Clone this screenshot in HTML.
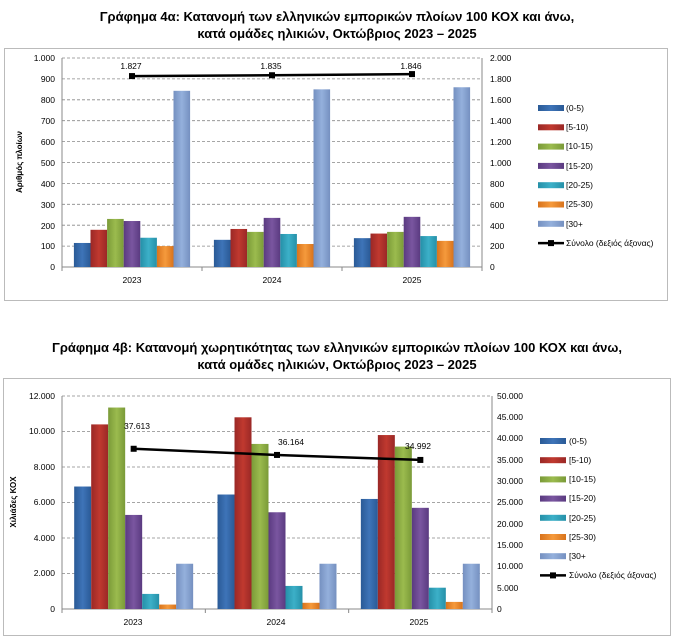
<!DOCTYPE html>
<html><head><meta charset="utf-8"><style>
body{margin:0;background:#fff;}
svg{display:block;font-family:"Liberation Sans","DejaVu Sans",sans-serif;}
</style></head><body>
<svg id="s" width="674" height="639" xmlns="http://www.w3.org/2000/svg">
<defs>
<linearGradient id="g0" x1="0" x2="1"><stop offset="0" stop-color="#2a5a96"/><stop offset=".5" stop-color="#3e74b8"/><stop offset="1" stop-color="#2a5a96"/></linearGradient>
<linearGradient id="g1" x1="0" x2="1"><stop offset="0" stop-color="#9a2826"/><stop offset=".5" stop-color="#c0392f"/><stop offset="1" stop-color="#9a2826"/></linearGradient>
<linearGradient id="g2" x1="0" x2="1"><stop offset="0" stop-color="#7a9a38"/><stop offset=".5" stop-color="#9bbb4e"/><stop offset="1" stop-color="#7a9a38"/></linearGradient>
<linearGradient id="g3" x1="0" x2="1"><stop offset="0" stop-color="#5a3a80"/><stop offset=".5" stop-color="#7a56a0"/><stop offset="1" stop-color="#5a3a80"/></linearGradient>
<linearGradient id="g4" x1="0" x2="1"><stop offset="0" stop-color="#2590a8"/><stop offset=".5" stop-color="#3cb0c8"/><stop offset="1" stop-color="#2590a8"/></linearGradient>
<linearGradient id="g5" x1="0" x2="1"><stop offset="0" stop-color="#d8731c"/><stop offset=".5" stop-color="#f59a3c"/><stop offset="1" stop-color="#d8731c"/></linearGradient>
<linearGradient id="g6" x1="0" x2="1"><stop offset="0" stop-color="#7590c0"/><stop offset=".5" stop-color="#94b0dc"/><stop offset="1" stop-color="#7590c0"/></linearGradient>
</defs>
<text x="337" y="21" text-anchor="middle" font-size="13" font-weight="bold">Γράφημα 4α: Κατανομή των ελληνικών εμπορικών πλοίων 100 ΚΟΧ και άνω,</text>
<text x="337" y="38" text-anchor="middle" font-size="13" font-weight="bold">κατά ομάδες ηλικιών, Οκτώβριος 2023 – 2025</text>
<rect x="4.5" y="48.5" width="663" height="252" fill="#fff" stroke="#bbb"/>
<text x="337" y="352" text-anchor="middle" font-size="13" font-weight="bold">Γράφημα 4β: Κατανομή χωρητικότητας των ελληνικών εμπορικών πλοίων 100 ΚΟΧ και άνω,</text>
<text x="337" y="369" text-anchor="middle" font-size="13" font-weight="bold">κατά ομάδες ηλικιών, Οκτώβριος 2023 – 2025</text>
<rect x="3.5" y="378.5" width="667" height="257" fill="#fff" stroke="#bbb"/>
<g id="c1"></g><g id="c2"></g>
<g font-size="8.5" fill="#000">
<text x="55" y="61" text-anchor="end">1.000</text><text x="55" y="82" text-anchor="end">900</text><text x="55" y="103" text-anchor="end">800</text><text x="55" y="124" text-anchor="end">700</text><text x="55" y="145" text-anchor="end">600</text><text x="55" y="166" text-anchor="end">500</text><text x="55" y="187" text-anchor="end">400</text><text x="55" y="208" text-anchor="end">300</text><text x="55" y="229" text-anchor="end">200</text><text x="55" y="249" text-anchor="end">100</text><text x="55" y="270" text-anchor="end">0</text>
<text x="490" y="61">2.000</text><text x="490" y="82">1.800</text><text x="490" y="103">1.600</text><text x="490" y="124">1.400</text><text x="490" y="145">1.200</text><text x="490" y="166">1.000</text><text x="490" y="187">800</text><text x="490" y="208">600</text><text x="490" y="229">400</text><text x="490" y="249">200</text><text x="490" y="270">0</text>
<text x="132" y="283" text-anchor="middle">2023</text><text x="272" y="283" text-anchor="middle">2024</text><text x="412" y="283" text-anchor="middle">2025</text>
<text x="131" y="69" text-anchor="middle">1.827</text><text x="271" y="69" text-anchor="middle">1.835</text><text x="411" y="69" text-anchor="middle">1.846</text>
<text transform="translate(22,162) rotate(-90)" text-anchor="middle" font-size="8" font-weight="bold">Αριθμός πλοίων</text>
<text x="55" y="399" text-anchor="end">12.000</text><text x="55" y="434" text-anchor="end">10.000</text><text x="55" y="470" text-anchor="end">8.000</text><text x="55" y="505" text-anchor="end">6.000</text><text x="55" y="541" text-anchor="end">4.000</text><text x="55" y="576" text-anchor="end">2.000</text><text x="55" y="612" text-anchor="end">0</text>
<text x="497" y="399">50.000</text><text x="497" y="420">45.000</text><text x="497" y="441">40.000</text><text x="497" y="463">35.000</text><text x="497" y="484">30.000</text><text x="497" y="505">25.000</text><text x="497" y="527">20.000</text><text x="497" y="548">15.000</text><text x="497" y="569">10.000</text><text x="497" y="591">5.000</text><text x="497" y="612">0</text>
<text x="133" y="625" text-anchor="middle">2023</text><text x="276" y="625" text-anchor="middle">2024</text><text x="419" y="625" text-anchor="middle">2025</text>
<text x="124" y="429">37.613</text><text x="278" y="445">36.164</text><text x="405" y="449">34.992</text>
<text transform="translate(16,502) rotate(-90)" text-anchor="middle" font-size="8" font-weight="bold">Χιλιάδες ΚΟΧ</text>
</g>
<g font-size="8.5" id="lg1"><text x="566" y="111">(0-5)</text><text x="566" y="130">[5-10)</text><text x="566" y="149">[10-15)</text><text x="566" y="169">[15-20)</text><text x="566" y="188">[20-25)</text><text x="566" y="207">[25-30)</text><text x="566" y="227">[30+</text><text x="566" y="246">Σύνολο (δεξιός άξονας)</text></g>
<g font-size="8.5" id="lg2"><text x="569" y="444">(0-5)</text><text x="569" y="463">[5-10)</text><text x="569" y="482">[10-15)</text><text x="569" y="501">[15-20)</text><text x="569" y="521">[20-25)</text><text x="569" y="540">[25-30)</text><text x="569" y="559">[30+</text><text x="569" y="578">Σύνολο (δεξιός άξονας)</text></g>
</svg>
<script>
var NS="http://www.w3.org/2000/svg";
function el(p,t,a){var e=document.createElementNS(NS,t);for(var k in a)e.setAttribute(k,a[k]);p.appendChild(e);return e;}
function chart(g,L,R,T,B,nt,data,line,lmax,lgx,lgy,lstep){
 var p=document.getElementById(g);
 for(var i=0;i<nt;i++){var y=T+(B-T)*i/(nt-1);el(p,"line",{x1:L,x2:R,y1:y,y2:y,stroke:"#888","stroke-dasharray":"3,2","stroke-width":.8});}
 el(p,"line",{x1:L,x2:L,y1:T,y2:B+4,stroke:"#888"});el(p,"line",{x1:R,x2:R,y1:T,y2:B+4,stroke:"#888"});
 el(p,"line",{x1:L,x2:R,y1:B,y2:B,stroke:"#888"});
 var cw=(R-L)/3,bw=cw*0.83/7,vmax=data.max;
 for(var c=0;c<3;c++){
  el(p,"line",{x1:L+cw*(c+1),x2:L+cw*(c+1),y1:B,y2:B+4,stroke:"#888"});
  for(var j=0;j<7;j++){var v=data.v[c][j];var h=v/vmax*(B-T);
   el(p,"rect",{x:L+cw*c+cw*0.085+j*bw,y:B-h,width:bw,height:h,fill:"url(#g"+j+")"});}
 }
 var pts=[];for(var c=0;c<3;c++){pts.push([L+cw*(c+.5),B-line[c]/lmax*(B-T)]);}
 el(p,"polyline",{points:pts.map(function(q){return q.join(",")}).join(" "),fill:"none",stroke:"#000","stroke-width":2.5});
 pts.forEach(function(q){el(p,"rect",{x:q[0]-3,y:q[1]-3,width:6,height:6,fill:"#000"});});
 for(var j=0;j<7;j++)el(p,"rect",{x:lgx,y:lgy+j*lstep-3,width:26,height:6,fill:"url(#g"+j+")"});
 var y=lgy+7*lstep;el(p,"line",{x1:lgx,x2:lgx+26,y1:y,y2:y,stroke:"#000","stroke-width":2.5});el(p,"rect",{x:lgx+10,y:y-3,width:6,height:6,fill:"#000"});
}
chart("c1",62,482,58,267,11,{max:1000,v:[[115,178,230,220,140,100,843],[130,182,168,235,158,110,850],[138,160,168,240,148,125,860]]},[1827,1835,1846],2000,538,108,19.3);
chart("c2",62,492,396,609,7,{max:12000,v:[[6900,10400,11350,5300,850,250,2550],[6450,10800,9300,5450,1300,350,2550],[6200,9800,9150,5700,1200,400,2550]]},[37613,36164,34992],50000,540,441,19.2);
</script>
</body></html>
